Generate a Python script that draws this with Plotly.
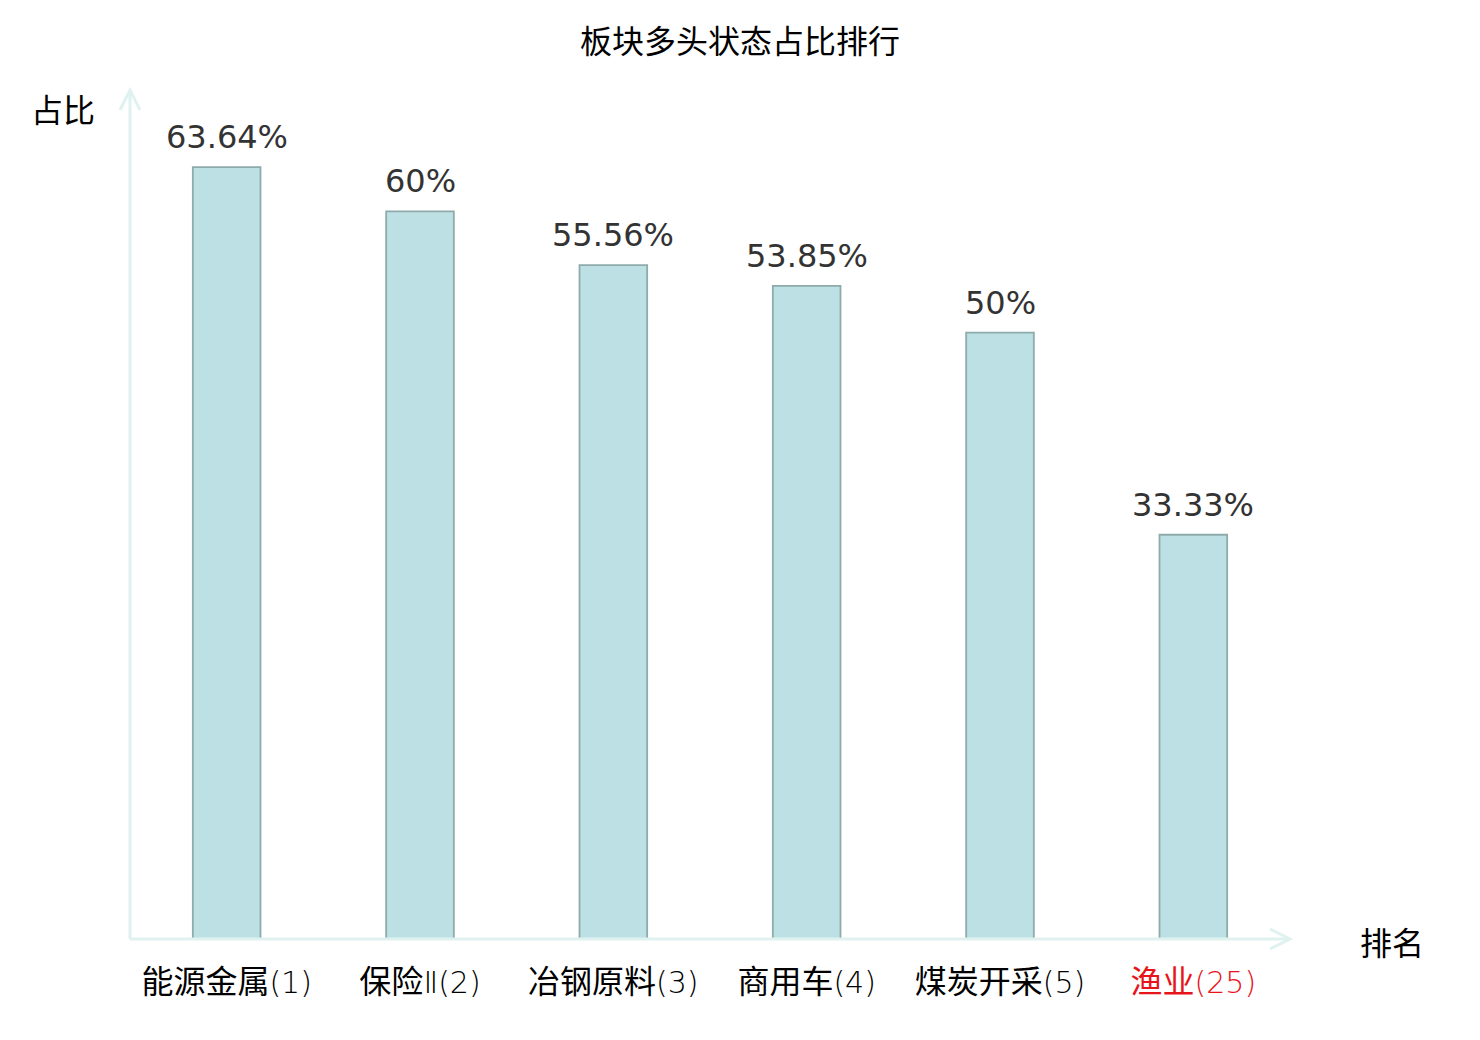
import plotly.graph_objects as go

# data
sectors = ["能源金属", "保险Ⅱ", "冶钢原料", "商用车", "煤炭开采", "渔业"]
ranks = [1, 2, 3, 4, 5, 25]
ratios = [63.64, 60, 55.56, 53.85, 50, 33.33]
ratio_labels = ["63.64%", "60%", "55.56%", "53.85%", "50%", "33.33%"]
highlight = "渔业"

axis_color = "#dff2f0"
cjk = "Noto Sans CJK SC"
thin = "font-family:'DejaVu Sans ExtraLight','DejaVu Sans';font-weight:200;font-size:30px"

tick_text = []
for name, r in zip(sectors, ranks):
    shown = name.replace("Ⅱ", f'<span style="{thin}">Ⅱ</span>')
    label = f'{shown}<span style="{thin}">({r})</span>'
    if name == highlight:
        label = f"<span style='color:#e8141b'>{label}</span>"
    tick_text.append(label)

fig = go.Figure()
fig.add_trace(go.Bar(
    x=sectors, y=ratios,
    marker=dict(color="#bce0e3", line=dict(color="#8faaaa", width=1.8)),
    hoverinfo="skip",
))

# value labels above bars
for name, v, t in zip(sectors, ratios, ratio_labels):
    fig.add_annotation(
        x=name, y=v, text=t, showarrow=False, yanchor="bottom", yshift=9,
        font=dict(family="DejaVu Sans", size=32, color="#333333"),
    )

# axis lines with arrow heads
fig.add_shape(type="line", xref="paper", yref="paper", x0=0, x1=1, y0=0, y1=0,
              line=dict(color=axis_color, width=3))
fig.add_shape(type="line", xref="paper", yref="paper", x0=0, x1=0, y0=0, y1=1,
              line=dict(color=axis_color, width=3))
fig.add_shape(type="path", xref="paper", yref="paper",
              xsizemode="pixel", ysizemode="pixel", xanchor=1, yanchor=0,
              path="M -20,10 L 0,0 L -20,-10", line=dict(color=axis_color, width=3))
fig.add_shape(type="path", xref="paper", yref="paper",
              xsizemode="pixel", ysizemode="pixel", xanchor=0, yanchor=1,
              path="M -10,-20 L 0,0 L 10,-20", line=dict(color=axis_color, width=3))

# axis names
fig.add_annotation(xref="paper", yref="paper", x=1, y=0, xanchor="center", yanchor="middle",
                   xshift=102, yshift=-2, text="排名", showarrow=False,
                   font=dict(family=cjk, size=32, color="#000000"))
fig.add_annotation(xref="paper", yref="paper", x=0, y=1, xanchor="center", yanchor="middle",
                   xshift=-67, yshift=-18, text="占比", showarrow=False,
                   font=dict(family=cjk, size=32, color="#000000"))

fig.update_layout(
    width=1480, height=1040,
    margin=dict(l=122, r=198, t=82, b=109),
    plot_bgcolor="white", paper_bgcolor="white",
    bargap=0.65,
    showlegend=False,
    title=dict(text="板块多头状态占比排行", x=(740 - 8) / 1480, xanchor="center",
               y=1 - 34 / 1040, yanchor="middle", yref="container",
               font=dict(family=cjk, size=32, color="#000000")),
    xaxis=dict(showline=False, showgrid=False, zeroline=False,
               tickvals=sectors, ticktext=tick_text, ticks="",
               ticklabelstandoff=21,
               tickfont=dict(family=cjk, size=32, color="#000000")),
    yaxis=dict(range=[0, 70], showline=False, showgrid=False, zeroline=False,
               showticklabels=False, ticks=""),
)

fig.write_html("out.html")
